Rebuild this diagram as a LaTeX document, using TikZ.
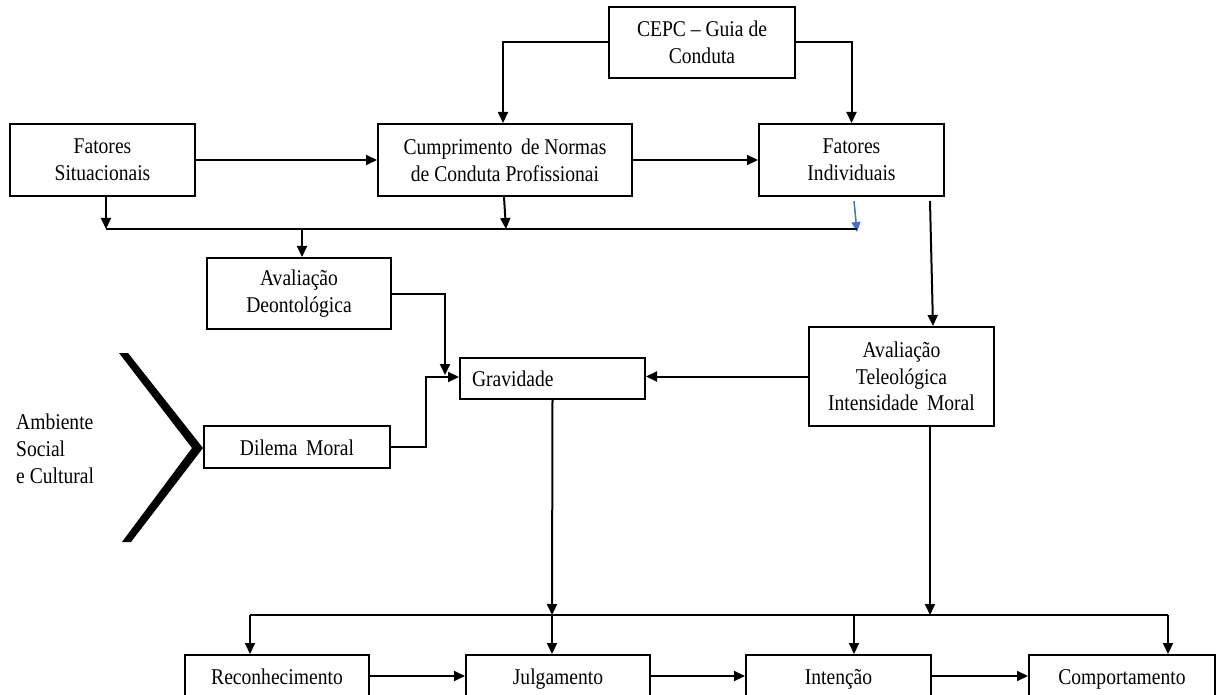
\documentclass[tikz,border=0pt]{standalone}
\usepackage{fontspec}
\setmainfont{Liberation Serif}[FakeStretch=0.87]
\usetikzlibrary{arrows.meta,calc}
\definecolor{linkblue}{RGB}{68,114,196}
\begin{document}
\begin{tikzpicture}[x=1pt,y=-1pt,
  every node/.style={font=\fontsize{22.5}{26.7}\selectfont},
  box/.style={draw,line width=2pt,align=center,inner sep=2pt},
  rowbox/.style={box,minimum height=42pt,text height=16pt,text depth=0pt},
  arr/.style={line width=2pt,-{Triangle[length=11pt,width=10pt]}},
  line/.style={line width=2pt}]
\useasboundingbox (0,0) rectangle (1216,695);
\clip (0,0) rectangle (1216,695);

% boxes
\node[box,minimum width=186pt,minimum height=71pt] (cepc) at (702,42.5) {CEPC – Guia de\\Conduta};
\node[box,minimum width=185pt,minimum height=72pt] (fs) at (102.5,160) {Fatores\\Situacionais};
\node[box,minimum width=254pt,minimum height=72pt] (cump) at (505,160) {Cumprimento\ \,de Normas\\de Conduta Profissionai};
\node[box,minimum width=185pt,minimum height=72pt] (fi) at (851.5,160) {Fatores\\Individuais};
\node[box,minimum width=184pt,minimum height=71pt] (deon) at (299,293.5) {Avaliação\\Deontológica};
\node[box,minimum width=185pt,minimum height=41pt,text width=161pt,inner xsep=12pt,align=left] (grav) at (552.5,378.5) {Gravidade};
\node[box,minimum width=185pt,minimum height=99pt] (tel) at (901.5,376.5) {Avaliação\\Teleológica\\Intensidade\ \,Moral};
\node[rowbox,minimum width=186pt] (dil) at (297,447) {Dilema\ \,Moral};
\node[rowbox,minimum width=184pt] (rec) at (277,676) {Reconhecimento};
\node[rowbox,minimum width=184pt] (julg) at (558,676) {Julgamento};
\node[rowbox,minimum width=185pt] (int) at (838.5,676) {Intenção};
\node[rowbox,minimum width=186pt] (comp) at (1122,676) {Comportamento};

% social and cultural environment
\node[anchor=west,align=left,inner sep=0pt] (amb) at (16,449) {Ambiente\\Social\\e Cultural};
\fill (119,353) -- (128,353) -- (203,448) -- (131,542) -- (122,542) -- (192,448) -- cycle;

% junction points
\coordinate (b1) at (106,229);
\coordinate (b2) at (506,229);
\coordinate (b3) at (857,229);
\coordinate (b4) at (302,229);
\coordinate (g1) at (445,375);
\coordinate (j1) at (426,377);
\coordinate (c1) at (250,615);
\coordinate (c2) at (552,615);
\coordinate (c3) at (930,615);
\coordinate (c5) at (854,615);
\coordinate (c4) at (1168,615);

% code of conduct
\draw[arr] (cepc.west) -| ([xshift=-2pt]cump.north);
\draw[arr] (cepc.east) -| (fi.north);
\draw[arr] (fs.east) -- (cump.west);
\draw[arr] (cump.east) -- (fi.west);

% upper bus
\draw[arr] (fs.south -| b1) -- (b1);
\draw[arr] ([xshift=-1pt]cump.south) -- (b2);
\draw[line width=1.5pt,linkblue,-{Triangle[length=10pt,width=9pt]}] ($(fi.south)+(2.5,4)$) -- ($(b3)+(0,3)$);
\draw[line] (b1) -- (b3);
\draw[arr] (b4) -- (b4 |- deon.north);

% towards gravity
\draw[arr] (deon.east) -| (g1);
\draw[arr] (dil.east) -| (j1) -- (j1 -| grav.west);
\draw[arr] (tel.west) -- (tel.west -| grav.east);
\draw[arr] ($(fi.south)+(78.5,4)$) -- ($(tel.north)+(31.5,0)$);

% lower bus
\draw[arr] (grav.south) -- (c2);
\draw[arr] (tel.south -| c3) -- (c3);
\draw[line] (c1) -- (c4);
\draw[arr] (c1) -- (c1 |- rec.north);
\draw[arr] (c2) -- (c2 |- julg.north);
\draw[arr] (c5) -- (c5 |- int.north);
\draw[arr] (c4) -- (c4 |- comp.north);

% process chain
\draw[arr] (rec.east) -- (julg.west);
\draw[arr] (julg.east) -- (int.west);
\draw[arr] (int.east) -- (comp.west);
\end{tikzpicture}
\end{document}
